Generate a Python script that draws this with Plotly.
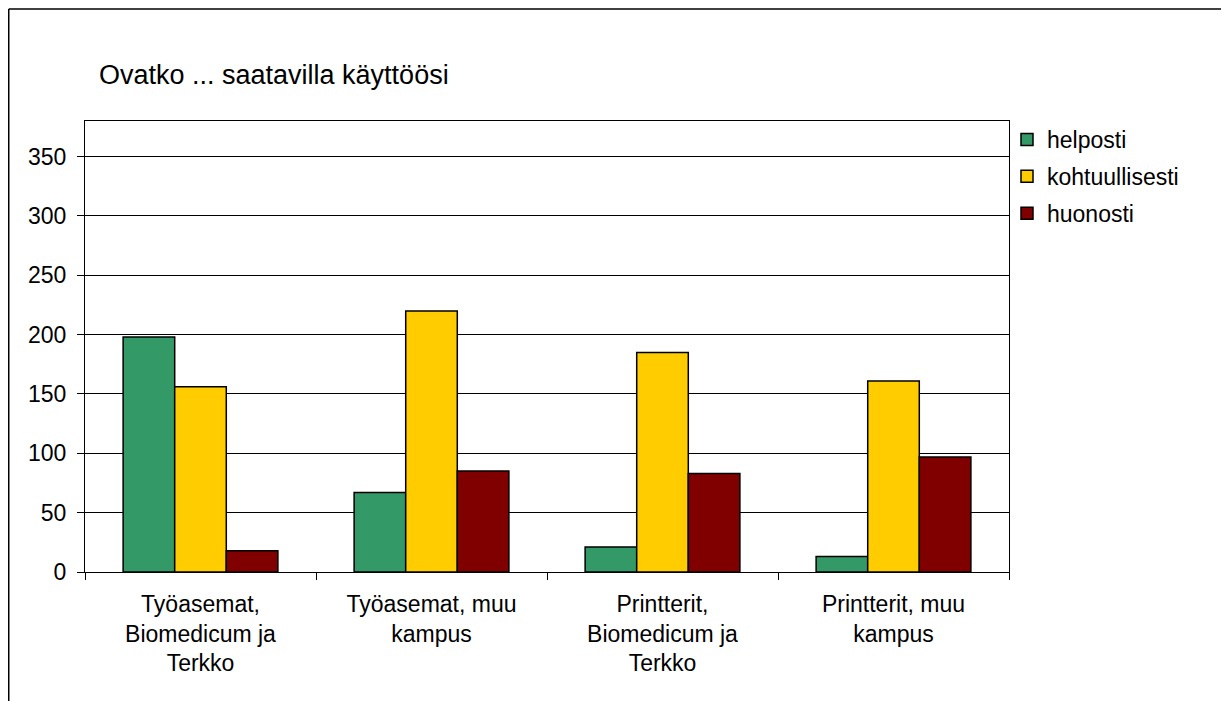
import plotly.graph_objects as go

categories = [
    "Työasemat,<br>Biomedicum ja<br>Terkko",
    "Työasemat, muu<br>kampus",
    "Printterit,<br>Biomedicum ja<br>Terkko",
    "Printterit, muu<br>kampus",
]
helposti = [198, 67, 21, 13]
kohtuullisesti = [156, 220, 185, 161]
huonosti = [18, 85, 83, 97]

series = [
    ("helposti", helposti, "#339966"),
    ("kohtuullisesti", kohtuullisesti, "#FFCC00"),
    ("huonosti", huonosti, "#800000"),
]

# the page body adds an 8px offset; work in screen pixels and subtract it
OFF = 8
W, H = 1229 - OFF, 701 - OFF
L, R, T, B = 85 - OFF, 1009 - OFF, 121 - OFF, 572 - OFF

fig = go.Figure()
for name, vals, col in series:
    fig.add_trace(go.Bar(
        name=name, x=categories, y=vals, legendgroup=name,
        marker=dict(color=col, line=dict(color="black", width=1.5)),
    ))

font = "Liberation Sans, Arial, sans-serif"
pw, ph = R - L, B - T

def px_x(p):
    return (p - OFF - L) / pw

def px_y(p):
    return (B - (p - OFF)) / ph

fig.update_layout(
    width=W, height=H,
    margin=dict(l=L, r=W - R, t=T, b=H - B, autoexpand=False),
    paper_bgcolor="white", plot_bgcolor="white",
    barmode="group", bargap=0.33, bargroupgap=0,
    font=dict(family=font, size=23, color="black"),
    title=dict(text="Ovatko ... saatavilla käyttöösi",
               x=(99 - OFF) / W, xanchor="left", xref="container",
               y=1 - (75 - OFF) / H, yanchor="middle", yref="container",
               font=dict(family=font, size=27, color="black")),
    legend=dict(x=px_x(1007), y=px_y(118), xanchor="left", yanchor="top",
                font=dict(family=font, size=23, color="black"),
                bgcolor="rgba(0,0,0,0)", tracegroupgap=4, traceorder="grouped",
                itemclick=False),
    showlegend=True,
    xaxis=dict(showline=True, linecolor="black", linewidth=1, mirror=True,
               ticks="outside", tickson="boundaries", ticklen=7, tickcolor="black",
               showgrid=False, ticklabelstandoff=11),
    yaxis=dict(range=[0, 380], dtick=50, tick0=0, showline=True, linecolor="black",
               linewidth=1, mirror=True, ticks="outside", ticklen=7, tickcolor="black",
               showgrid=True, gridcolor="black", gridwidth=1, zeroline=False,
               ticklabelstandoff=6),
    shapes=[dict(type="line", xref="paper", yref="paper",
                 x0=px_x(8.75), x1=px_x(8.75), y0=px_y(9), y1=px_y(720),
                 line=dict(color="black", width=1.5)),
            dict(type="line", xref="paper", yref="paper",
                 x0=px_x(8.75), x1=px_x(1250), y0=px_y(9), y1=px_y(9),
                 line=dict(color="black", width=1.5))],
)

fig.write_html("out.html")
